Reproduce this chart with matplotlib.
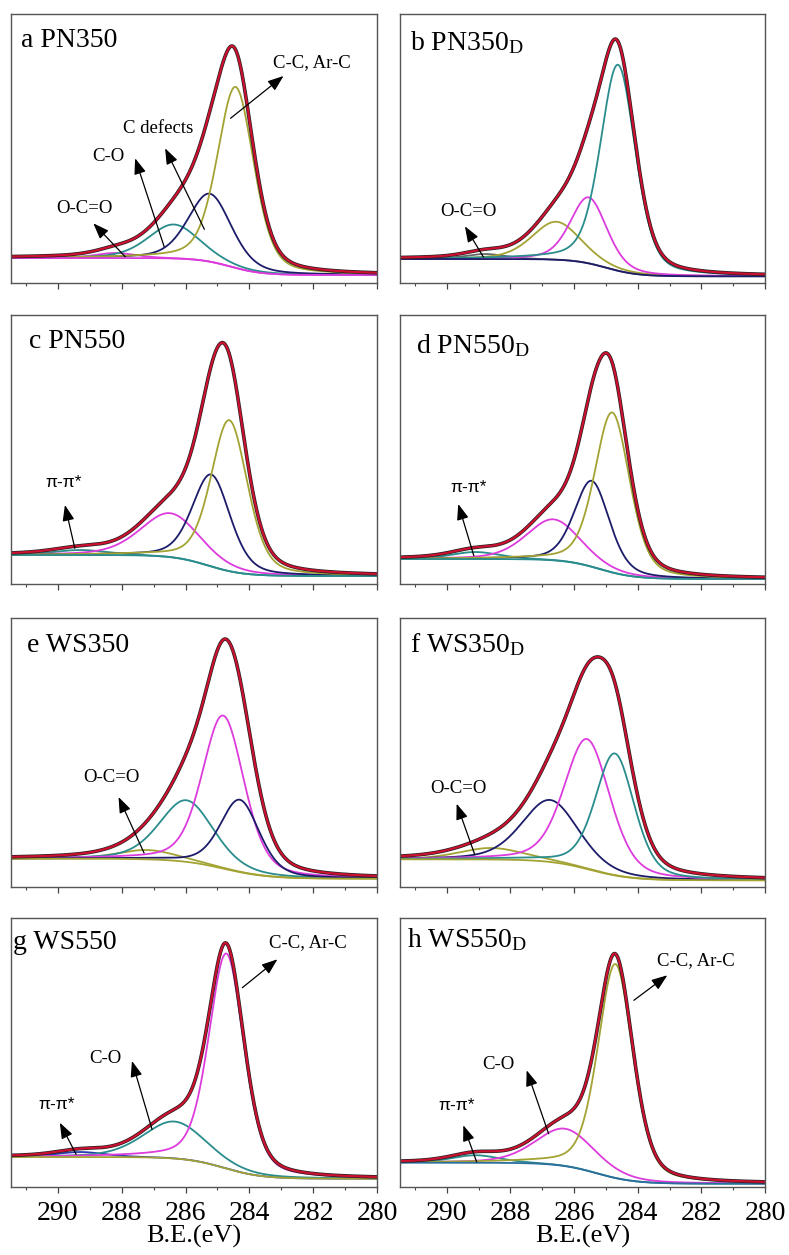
import numpy as np
import matplotlib
matplotlib.use("Agg")
from matplotlib import pyplot as plt
from matplotlib.ticker import MultipleLocator

plt.rcParams['font.family'] = ['Liberation Serif', 'DejaVu Serif']
plt.rcParams['mathtext.fontset'] = 'custom'
plt.rcParams['mathtext.rm'] = 'Liberation Serif'
plt.rcParams['mathtext.default'] = 'regular'

# binding energy grid (eV)
energy = np.linspace(291.5, 280.0, 700)

# panel titles (subscript D = treated sample)
titles = ['a PN350', 'b PN350$_{D}$', 'c PN550', 'd PN550$_{D}$',
          'e WS350', 'f WS350$_{D}$', 'g WS550', 'h WS550$_{D}$']

# step background per panel: [low-BE level, high-BE level, step centre, step width]
bg_a = [8.0, 25.0, 284.6, 0.50]
bg_b = [6.7, 24.0, 285.0, 0.50]
bg_c = [8.0, 29.0, 285.3, 0.55]
bg_d = [5.0, 25.0, 285.2, 0.55]
bg_e = [8.3, 28.3, 284.8, 0.70]
bg_f = [6.7, 27.7, 285.5, 0.65]
bg_g = [8.3, 30.0, 284.8, 0.60]
bg_h = [3.3, 24.3, 285.3, 0.60]

# fitted components per panel: centre (eV), FWHM (eV), height
cen_a = [288.20, 286.37, 285.24, 284.43]
fwhm_a = [1.5, 1.90, 1.60, 1.35]
amp_a = [5.0, 34.0, 68.0, 181.0]

cen_b = [288.80, 286.56, 285.54, 284.62]
fwhm_b = [1.5, 1.80, 1.35, 1.30]
amp_b = [5.0, 38.0, 66.0, 206.0]

cen_c = [289.30, 286.48, 285.19, 284.63]
fwhm_c = [2.0, 2.20, 1.40, 1.35]
amp_c = [5.0, 44.0, 92.0, 151.0]

cen_d = [289.10, 286.65, 285.44, 284.80]
fwhm_d = [1.8, 2.00, 1.30, 1.30]
amp_d = [7.0, 41.0, 86.0, 160.0]

cen_e = [287.20, 285.97, 284.82, 284.30]
fwhm_e = [2.2, 2.00, 1.55, 1.45]
amp_e = [9.3, 61.6, 153.0, 72.4]

cen_f = [288.60, 286.75, 285.59, 284.72]
fwhm_f = [2.4, 2.10, 1.70, 1.45]
amp_f = [11.5, 62.0, 130.0, 122.0]

cen_g = [289.30, 286.35, 284.72]
fwhm_g = [1.8, 2.30, 1.30]
amp_g = [5.0, 37.0, 215.0]

cen_h = [289.10, 286.28, 284.70]
fwhm_h = [1.8, 2.20, 1.30]
amp_h = [7.5, 37.4, 214.0]

RED = '#cc1030'
OLIVE = '#a3a334'
TEAL = '#2a8c8c'
NAVY = '#1c1c6a'
MAG = '#dd3cdd'
BLUE = '#2a3cb0'
STEEL = '#2b6e9e'
GREY = '#666666'

# 'base' is the colour of the background line, drawn over the component tails
panels = [
    dict(bg=bg_a, cen=cen_a, fwhm=fwhm_a, amp=amp_a, base=MAG,
         colors=[MAG, TEAL, NAVY, OLIVE], title_xy=(0.027, 0.878)),
    dict(bg=bg_b, cen=cen_b, fwhm=fwhm_b, amp=amp_b, base=NAVY,
         colors=[GREY, OLIVE, MAG, TEAL], title_xy=(0.027, 0.866)),
    dict(bg=bg_c, cen=cen_c, fwhm=fwhm_c, amp=amp_c, base=TEAL,
         colors=[TEAL, MAG, NAVY, OLIVE], title_xy=(0.050, 0.876)),
    dict(bg=bg_d, cen=cen_d, fwhm=fwhm_d, amp=amp_d, base=TEAL,
         colors=[TEAL, MAG, NAVY, OLIVE], title_xy=(0.043, 0.859)),
    dict(bg=bg_e, cen=cen_e, fwhm=fwhm_e, amp=amp_e, base=OLIVE,
         colors=[OLIVE, TEAL, MAG, NAVY], title_xy=(0.043, 0.874)),
    dict(bg=bg_f, cen=cen_f, fwhm=fwhm_f, amp=amp_f, base=OLIVE,
         colors=[OLIVE, NAVY, MAG, TEAL], title_xy=(0.027, 0.874)),
    dict(bg=bg_g, cen=cen_g, fwhm=fwhm_g, amp=amp_g, base=OLIVE,
         colors=[BLUE, TEAL, MAG], title_xy=(0.005, 0.884)),
    dict(bg=bg_h, cen=cen_h, fwhm=fwhm_h, amp=amp_h, base=STEEL,
         colors=[TEAL, MAG, OLIVE], title_xy=(0.018, 0.890)),
]

# peak labels: text, text (x, y), arrow tail, arrow head, font
labels = {
    0: [('C-C, Ar-C', (282.05, 216), (284.59, 164.7), (282.93, 207), 'serif'),
        ('C defects', (286.87, 150.3), (285.41, 53.7), (286.64, 134.7), 'serif'),
        ('C-O', (288.42, 122.3), (286.67, 36.3), (287.58, 124.7), 'serif'),
        ('O-C=O', (289.18, 69.7), (287.89, 26.3), (288.89, 59.7), 'serif')],
    1: [('O-C=O', (289.31, 66.7), (288.85, 26.0), (289.43, 56.7), 'serif')],
    2: [('π-π*', (289.81, 97.3), (289.47, 35.7), (289.78, 79.0), 'sans')],
    3: [('π-π*', (289.31, 92.3), (289.15, 28.3), (289.64, 80.0), 'sans')],
    4: [('O-C=O', (288.31, 105.0), (287.30, 34.0), (288.10, 90.0), 'serif')],
    5: [('O-C=O', (289.64, 94.0), (289.12, 32.3), (289.69, 83.3), 'serif')],
    6: [('C-C, Ar-C', (282.18, 240.0), (284.22, 199.3), (283.12, 227.7), 'serif'),
        ('C-O', (288.52, 124.3), (287.05, 57.7), (287.68, 126.0), 'serif'),
        ('π-π*', (290.04, 77.7), (289.43, 32.7), (289.94, 64.3), 'sans')],
    7: [('C-C, Ar-C', (282.18, 221.7), (284.12, 186.7), (283.07, 211.7), 'serif'),
        ('C-O', (288.37, 118.3), (286.80, 53.3), (287.49, 116.7), 'serif'),
        ('π-π*', (289.68, 77.3), (289.06, 25.0), (289.48, 61.7), 'sans')],
}


def step_bg(x, lo, hi, c, w):
    return lo + (hi - lo) / (1.0 + np.exp(-(x - c) / w))


def pseudo_voigt(x, c, fwhm, eta=0.35):
    d = (x - c) / fwhm
    return eta / (1.0 + 4.0 * d ** 2) + (1 - eta) * np.exp(-4 * np.log(2) * d ** 2)


W, H = 789, 1255
fig = plt.figure(figsize=(W / 100, H / 100), dpi=100)
col_x = [11, 400]
col_w = [366, 365]
row_top = [14, 315, 618, 918]
ph = 269

for i, p in enumerate(panels):
    r, c = divmod(i, 2)
    ax = fig.add_axes([col_x[c] / W, 1 - (row_top[r] + ph) / H, col_w[c] / W, ph / H])
    bg = step_bg(energy, *p['bg'])
    comps = [a * pseudo_voigt(energy, ce, fw) for ce, fw, a in zip(p['cen'], p['fwhm'], p['amp'])]
    total = bg + np.sum(comps, axis=0)

    for comp, col in zip(comps, p['colors']):
        ax.plot(energy, bg + comp, color=col, lw=1.3)
    ax.plot(energy, bg, color=p['base'], lw=1.3)
    ax.plot(energy, total, color='#222222', lw=2.6)
    ax.plot(energy, total, color=RED, lw=1.6)

    ax.set_xlim(291.47, 280)
    ax.set_ylim(0, ph)
    ax.set_yticks([])
    ax.xaxis.set_major_locator(MultipleLocator(2))
    ax.xaxis.set_minor_locator(MultipleLocator(1))
    ax.tick_params(axis='x', which='major', direction='out', length=4, width=0.9, color='#444444',
                   labelsize=20, pad=6)
    ax.tick_params(axis='x', which='minor', direction='out', length=2.2, width=0.8, color='#444444')
    for s in ax.spines.values():
        s.set_color('#555555')
        s.set_linewidth(1.0)
    if r < 3:
        ax.set_xticklabels([])
    else:
        ax.set_xlabel('B.E.(eV)', fontsize=19, labelpad=-1)

    ax.text(*p['title_xy'], titles[i], transform=ax.transAxes, fontsize=20, va='baseline', ha='left')

    for txt, txy, tail, head, fam in labels.get(i, []):
        if fam == 'sans':
            ax.text(*txy, txt, fontsize=12.5, ha='center', va='baseline',
                    family=['Liberation Sans', 'DejaVu Sans'])
        else:
            ax.text(*txy, txt, fontsize=13.5, ha='center', va='baseline')
        ax.annotate('', xy=head, xytext=tail,
                    arrowprops=dict(arrowstyle='-|>,head_length=0.8,head_width=0.3', color='k',
                                    lw=0.9, mutation_scale=12, shrinkA=0, shrinkB=0))

fig.savefig('out.png', dpi=100)
